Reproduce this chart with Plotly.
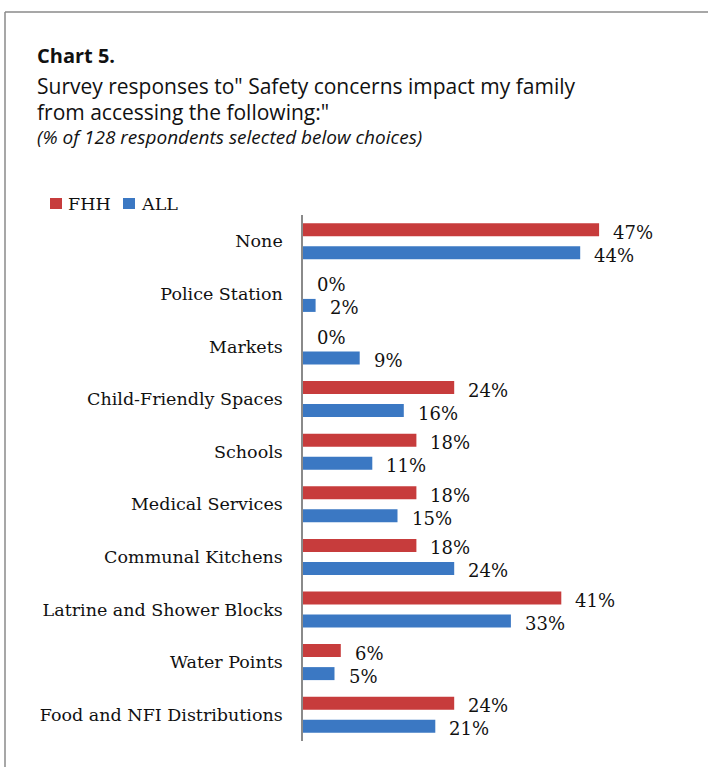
import plotly.graph_objects as go

# Survey data: share of respondents (%) per access point
categories = [
    "None",
    "Police Station",
    "Markets",
    "Child-Friendly Spaces",
    "Schools",
    "Medical Services",
    "Communal Kitchens",
    "Latrine and Shower Blocks",
    "Water Points",
    "Food and NFI Distributions",
]
fhh_values = [47, 0, 0, 24, 18, 18, 18, 41, 6, 24]
all_values = [44, 2, 9, 16, 11, 15, 24, 33, 5, 21]

series_names = ["FHH", "ALL"]
series_colors = ["#C73C3C", "#3B78C3"]

W, H = 708, 767
L, R, T, B = 303, 27, 215, 26
PW, PH = W - L - R, H - T - B


def px_x(px):
    return (px - L) / PW


def px_y(py):
    return (H - B - py) / PH


SERIF = "DejaVu Serif"
SANS = "Open Sans"
INK = "#111111"

fig = go.Figure()
for name, vals, color in zip(series_names, [fhh_values, all_values], series_colors):
    fig.add_trace(go.Bar(
        name=name,
        y=categories,
        x=vals,
        orientation="h",
        marker=dict(color=color, line=dict(width=0)),
        hoverinfo="x+y",
        showlegend=False,
    ))

# value labels next to each bar
annotations = []
for vals, shift in [(fhh_values, 9), (all_values, -14)]:
    for cat, v in zip(categories, vals):
        annotations.append(dict(
            x=v, y=cat, xref="x", yref="y",
            text=f"{v}%", showarrow=False,
            xanchor="left", yanchor="middle",
            xshift=12, yshift=shift,
            font=dict(family=SERIF, size=18, color=INK),
        ))

# title block
title_lines = [
    ("<b>Chart 5.</b>", 55, 20),
    ("Survey responses to\" Safety concerns impact my family", 86, 21),
    ("from accessing the following:\"", 112, 21),
    ("<i>(% of 128 respondents selected below choices)</i>", 137, 19),
]
for text, cy, size in title_lines:
    annotations.append(dict(
        x=px_x(35), y=px_y(cy), xref="paper", yref="paper",
        text=text, showarrow=False, xanchor="left", yanchor="middle",
        font=dict(family=SANS, size=size, color=INK),
    ))

shapes = []

# compact key above the bars: colour swatch followed by series name
key_swatch_left = [50, 123]
for name, color, x0 in zip(series_names, series_colors, key_swatch_left):
    shapes.append(dict(
        type="rect", xref="paper", yref="paper",
        x0=px_x(x0), x1=px_x(x0 + 12), y0=px_y(209), y1=px_y(198),
        fillcolor=color, line=dict(width=0),
    ))
    annotations.append(dict(
        x=px_x(x0 + 16), y=px_y(204), xref="paper", yref="paper",
        text=name, showarrow=False, xanchor="left", yanchor="middle",
        font=dict(family=SERIF, size=17.5, color=INK),
    ))

# frame around the chart
shapes += [
    dict(type="line", xref="paper", yref="paper",
         x0=px_x(5), x1=px_x(712), y0=px_y(12), y1=px_y(12),
         line=dict(color="#8a8a8a", width=1.5)),
    dict(type="line", xref="paper", yref="paper",
         x0=px_x(5), x1=px_x(5), y0=px_y(12), y1=px_y(770),
         line=dict(color="#8a8a8a", width=1.5)),
]

fig.update_layout(
    width=W, height=H,
    template="none",
    margin=dict(l=L, r=R, t=T, b=B, pad=0),
    paper_bgcolor="white", plot_bgcolor="white",
    barmode="group",
    bargap=0.125,
    bargroupgap=0.435,
    showlegend=False,
    xaxis=dict(
        range=[0, PW / 6.3],
        showgrid=False, zeroline=False, showticklabels=False,
        showline=False, ticks="", automargin=False,
    ),
    yaxis=dict(
        categoryorder="array", categoryarray=categories,
        range=[len(categories) - 0.5, -0.5],
        showgrid=False, zeroline=False,
        showline=True, linecolor="#8a8a8a", linewidth=1.5,
        ticks="", ticklabelstandoff=15,
        tickfont=dict(family=SERIF, size=17.5, color=INK),
        automargin=False,
    ),
    annotations=annotations,
    shapes=shapes,
)

fig.write_html("out.html")
